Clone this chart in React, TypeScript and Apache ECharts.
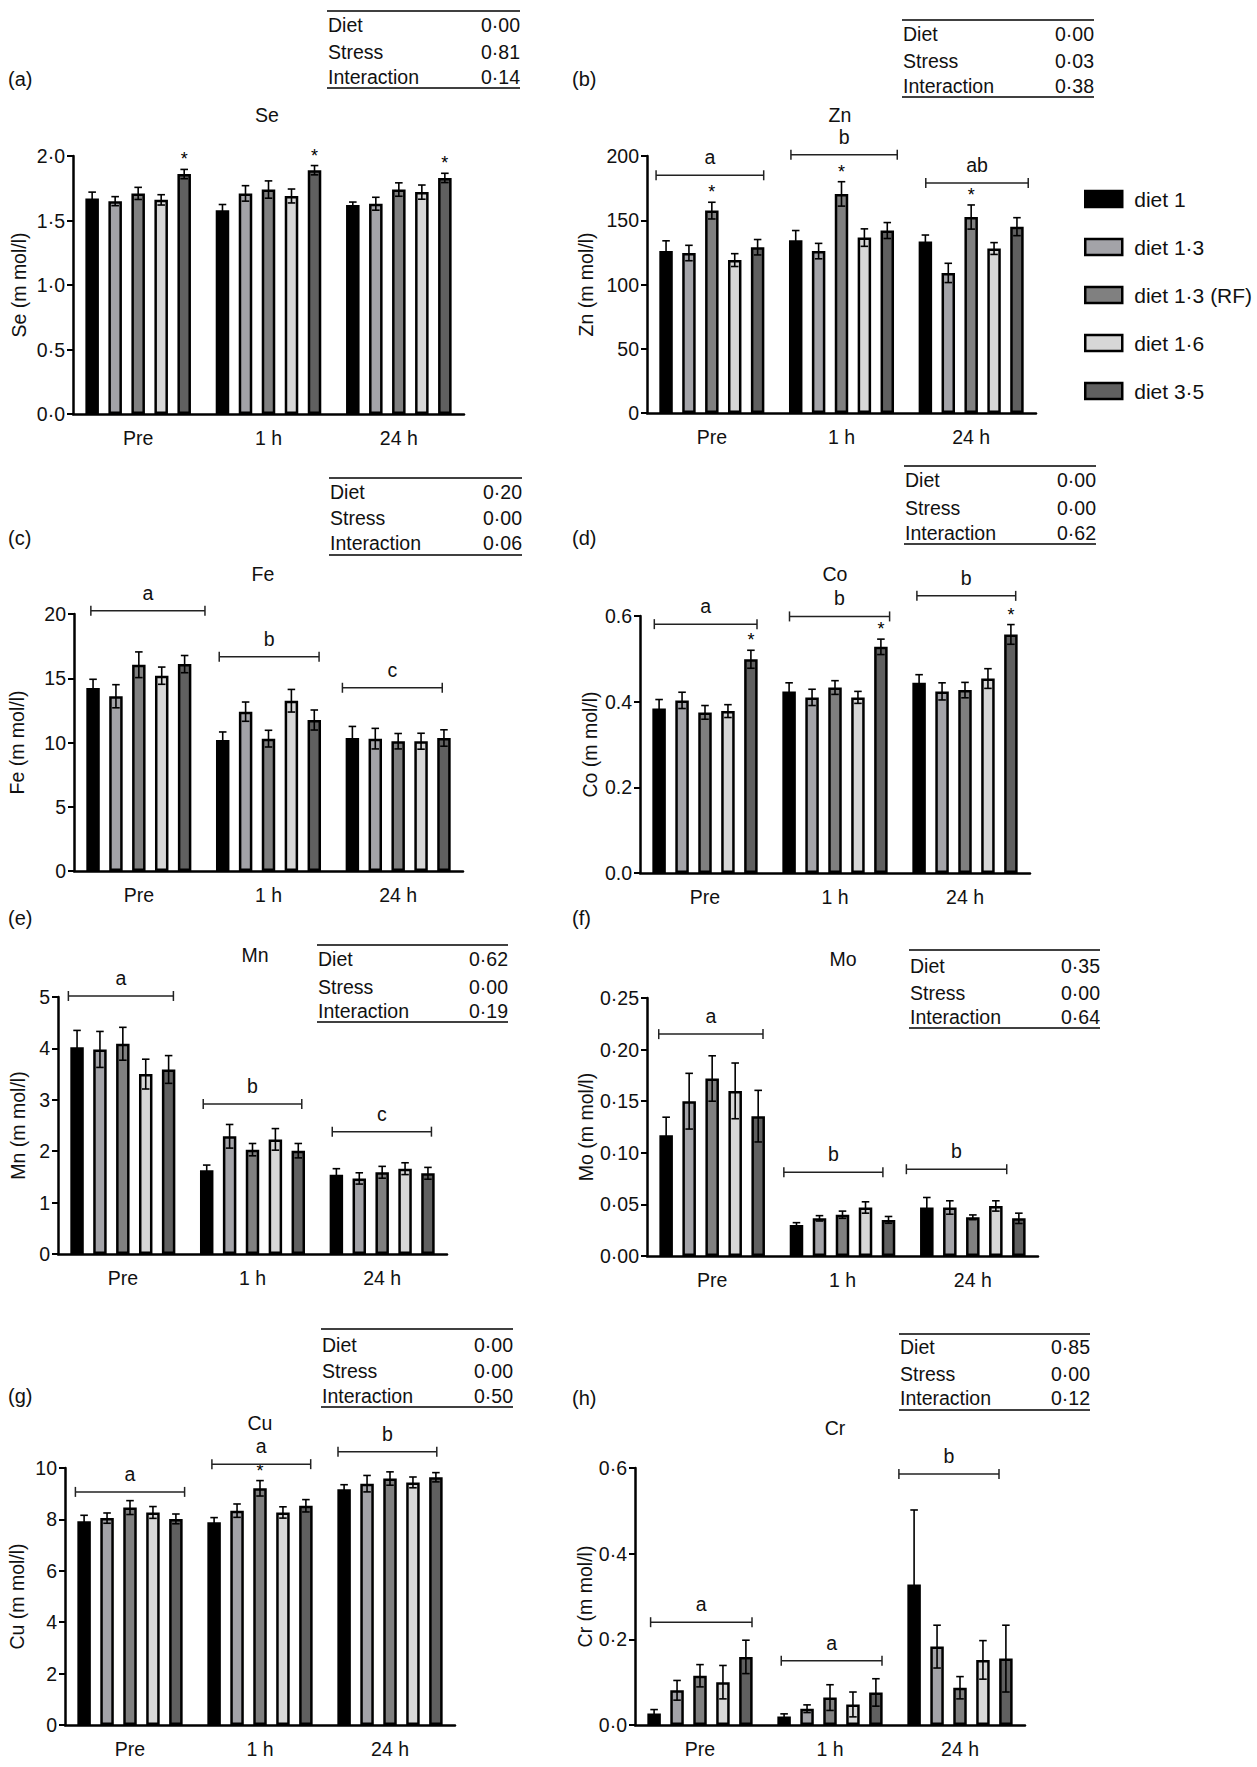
import React, { useEffect, useRef } from "react";
import * as echarts from "echarts";

// ---------- data ----------
const timePoints = ["Pre", "1 h", "24 h"];
const dietNames = ["diet 1", "diet 1·3", "diet 1·3 (RF)", "diet 1·6", "diet 3·5"];
const dietColors = ["#000000", "#a3a3a8", "#808080", "#d7d7d7", "#606060"];
const anovaTerms = ["Diet", "Stress", "Interaction"];

// means[diet][time] and SEM[diet][time]
const seMeans = [
  [1.67, 1.58, 1.62],
  [1.65, 1.71, 1.63],
  [1.71, 1.74, 1.74],
  [1.66, 1.69, 1.72],
  [1.86, 1.89, 1.83],
];
const seSem = [
  [0.05, 0.044, 0.023],
  [0.035, 0.06, 0.05],
  [0.047, 0.067, 0.052],
  [0.04, 0.054, 0.055],
  [0.036, 0.036, 0.036],
];
const seStars = [[0, 4], [1, 4], [2, 4]];
const seAnova = ["0·00", "0·81", "0·14"];

const znMeans = [
  [126, 134.5, 133.5],
  [124.5, 126, 109],
  [157.5, 170.5, 152.5],
  [119, 136.5, 128],
  [129, 142, 145],
];
const znSem = [
  [8, 7.5, 5],
  [6, 6, 7.5],
  [6.5, 9.5, 9.4],
  [5, 6.8, 4.6],
  [6, 6.2, 7],
];
const znStars = [[0, 2], [1, 2], [2, 2]];
const znGroups = ["a", "b", "ab"];
const znAnova = ["0·00", "0·03", "0·38"];

const feMeans = [
  [14.25, 10.2, 10.35],
  [13.6, 12.4, 10.3],
  [16.05, 10.3, 10.1],
  [15.2, 13.25, 10.1],
  [16.1, 11.75, 10.35],
];
const feSem = [
  [0.67, 0.62, 0.9],
  [0.9, 0.75, 0.8],
  [1.0, 0.65, 0.6],
  [0.67, 0.88, 0.62],
  [0.67, 0.78, 0.64],
];
const feGroups = ["a", "b", "c"];
const feAnova = ["0·20", "0·00", "0·06"];

const coMeans = [
  [0.384, 0.424, 0.444],
  [0.403, 0.41, 0.424],
  [0.375, 0.433, 0.427],
  [0.378, 0.41, 0.454],
  [0.499, 0.528, 0.557],
];
const coSem = [
  [0.021, 0.02, 0.019],
  [0.019, 0.019, 0.02],
  [0.016, 0.016, 0.018],
  [0.015, 0.014, 0.023],
  [0.021, 0.018, 0.023],
];
const coStars = [[0, 4], [1, 4], [2, 4]];
const coGroups = ["a", "b", "b"];
const coAnova = ["0·00", "0·00", "0·62"];

const mnMeans = [
  [4.02, 1.63, 1.54],
  [3.98, 2.29, 1.47],
  [4.09, 2.03, 1.59],
  [3.5, 2.23, 1.66],
  [3.59, 2.01, 1.57],
];
const mnSem = [
  [0.33, 0.1, 0.12],
  [0.35, 0.23, 0.11],
  [0.32, 0.12, 0.115],
  [0.29, 0.21, 0.115],
  [0.27, 0.14, 0.115],
];
const mnGroups = ["a", "b", "c"];
const mnAnova = ["0·62", "0·00", "0·19"];

const moMeans = [
  [0.117, 0.03, 0.047],
  [0.15, 0.0365, 0.047],
  [0.172, 0.04, 0.0375],
  [0.16, 0.047, 0.0485],
  [0.1355, 0.035, 0.0365],
];
const moSem = [
  [0.0175, 0.0023, 0.0097],
  [0.027, 0.0026, 0.0065],
  [0.022, 0.0035, 0.0023],
  [0.027, 0.0055, 0.005],
  [0.025, 0.0033, 0.005],
];
const moGroups = ["a", "b", "b"];
const moAnova = ["0·35", "0·00", "0·64"];

const cuMeans = [
  [7.93, 7.89, 9.17],
  [8.05, 8.34, 9.39],
  [8.46, 9.21, 9.59],
  [8.27, 8.27, 9.44],
  [8.02, 8.53, 9.64],
];
const cuSem = [
  [0.23, 0.18, 0.18],
  [0.2, 0.26, 0.32],
  [0.27, 0.3, 0.26],
  [0.23, 0.22, 0.21],
  [0.19, 0.24, 0.18],
];
const cuStars = [[1, 2]];
const cuGroups = ["a", "a", "b"];
const cuAnova = ["0·00", "0·00", "0·50"];

const crMeans = [
  [0.027, 0.02, 0.328],
  [0.081, 0.038, 0.183],
  [0.115, 0.064, 0.087],
  [0.1, 0.048, 0.152],
  [0.159, 0.076, 0.155],
];
const crSem = [
  [0.009, 0.006, 0.174],
  [0.023, 0.009, 0.05],
  [0.026, 0.03, 0.026],
  [0.039, 0.029, 0.045],
  [0.039, 0.032, 0.078],
];
const crGroups = ["a", "a", "b"];
const crAnova = ["0·85", "0·00", "0·12"];

// ---------- formatting ----------
const FONT = '"Liberation Sans", Arial, Helvetica, sans-serif';
const TEXT = "#111";
const FS = 19.5;
const CAT_GAP = 0.19;
const BAR_GAP = 0.7;
const BAR_BORDER = 2.5;

const midDot = (digits: number) => (v: number) => v.toFixed(digits).replace(".", "·");
const plainDot = (digits: number) => (v: number) => v.toFixed(digits);
const integer = (v: number) => String(Math.round(v));

// ---------- panel layout ----------
type Layout = {
  tag: [number, number];
  title: [number, number];
  grid: [number, number, number, number];
  nameGap: number;
  table: { x1: number; x2: number; top: number; rows: number[]; bottom: number };
  brackets?: [number, number, number][]; // [y value, left offset, right offset] in band units
};

type Panel = {
  tag: string;
  element: string;
  max: number;
  step: number;
  fmt: (v: number) => string;
  means: number[][];
  sems: number[][];
  stars: number[][];
  groups: string[] | null;
  anova: string[];
  layout: Layout;
};

const panels: Panel[] = [
  {
    tag: "(a)", element: "Se", max: 2, step: 0.5, fmt: midDot(1),
    means: seMeans, sems: seSem, stars: seStars, groups: null, anova: seAnova,
    layout: {
      tag: [8, 79], title: [267, 115], grid: [73, 156, 391, 258], nameGap: 44,
      table: { x1: 327, x2: 520, top: 11, rows: [25, 52, 77], bottom: 88 },
    },
  },
  {
    tag: "(b)", element: "Zn", max: 200, step: 50, fmt: integer,
    means: znMeans, sems: znSem, stars: znStars, groups: znGroups, anova: znAnova,
    layout: {
      tag: [572, 79], title: [840, 115], grid: [647, 156, 389, 257], nameGap: 51,
      table: { x1: 902, x2: 1094, top: 20, rows: [34, 61, 86], bottom: 97 },
      brackets: [[185, -0.43, 0.4], [201, -0.39, 0.43], [179, -0.35, 0.44]],
    },
  },
  {
    tag: "(c)", element: "Fe", max: 20, step: 5, fmt: integer,
    means: feMeans, sems: feSem, stars: [], groups: feGroups, anova: feAnova,
    layout: {
      tag: [8, 538], title: [263, 574], grid: [74, 614, 389, 257], nameGap: 47,
      table: { x1: 329, x2: 522, top: 478, rows: [492, 518, 543], bottom: 555 },
      brackets: [[20.26, -0.37, 0.51], [16.67, -0.38, 0.39], [14.26, -0.43, 0.34]],
    },
  },
  {
    tag: "(d)", element: "Co", max: 0.6, step: 0.2, fmt: plainDot(1),
    means: coMeans, sems: coSem, stars: coStars, groups: coGroups, anova: coAnova,
    layout: {
      tag: [572, 538], title: [835, 574], grid: [640, 616, 390, 257], nameGap: 40,
      table: { x1: 904, x2: 1096, top: 466, rows: [480, 508, 533], bottom: 544 },
      brackets: [[0.581, -0.39, 0.4], [0.599, -0.35, 0.42], [0.647, -0.37, 0.39]],
    },
  },
  {
    tag: "(e)", element: "Mn", max: 5, step: 1, fmt: integer,
    means: mnMeans, sems: mnSem, stars: [], groups: mnGroups, anova: mnAnova,
    layout: {
      tag: [8, 918], title: [255, 955], grid: [58, 997, 389, 257], nameGap: 30,
      table: { x1: 317, x2: 508, top: 945, rows: [959, 987, 1011], bottom: 1022 },
      brackets: [[5.02, -0.42, 0.39], [2.92, -0.38, 0.38], [2.38, -0.385, 0.38]],
    },
  },
  {
    tag: "(f)", element: "Mo", max: 0.25, step: 0.05, fmt: midDot(2),
    means: moMeans, sems: moSem, stars: [], groups: moGroups, anova: moAnova,
    layout: {
      tag: [572, 918], title: [843, 959], grid: [647, 998, 391, 258], nameGap: 50,
      table: { x1: 909, x2: 1100, top: 950, rows: [966, 993, 1017], bottom: 1028 },
      brackets: [[0.215, -0.41, 0.39], [0.0812, -0.45, 0.31], [0.0841, -0.51, 0.26]],
    },
  },
  {
    tag: "(g)", element: "Cu", max: 10, step: 2, fmt: integer,
    means: cuMeans, sems: cuSem, stars: cuStars, groups: cuGroups, anova: cuAnova,
    layout: {
      tag: [8, 1396], title: [260, 1423], grid: [65, 1468, 390, 257], nameGap: 38,
      table: { x1: 321, x2: 513, top: 1329, rows: [1345, 1371, 1396], bottom: 1407 },
      brackets: [[9.07, -0.42, 0.42], [10.15, -0.37, 0.39], [10.63, -0.4, 0.36]],
    },
  },
  {
    tag: "(h)", element: "Cr", max: 0.6, step: 0.2, fmt: midDot(1),
    means: crMeans, sems: crSem, stars: [], groups: crGroups, anova: crAnova,
    layout: {
      tag: [572, 1398], title: [835, 1428], grid: [635, 1468, 390, 257], nameGap: 38,
      table: { x1: 899, x2: 1090, top: 1334, rows: [1347, 1374, 1398], bottom: 1410 },
      brackets: [[0.24, -0.38, 0.4], [0.15, -0.375, 0.4], [0.586, -0.47, 0.3]],
    },
  },
];

// ---------- renderers ----------
function barWidthOf(api: any) {
  const cw = api.size([1, 0])[0];
  return { cw, bw: (cw * (1 - CAT_GAP)) / (5 + 4 * BAR_GAP) };
}

function errorBarRenderer(params: any, api: any) {
  const t = api.value(0);
  const d = api.value(1);
  const m = api.value(2);
  const s = api.value(3);
  const star = api.value(4);
  const { bw } = barWidthOf(api);
  const c = api.coord([t, m]);
  const x = c[0] + (d - 2) * bw * (1 + BAR_GAP);
  const yHi = api.coord([t, m + s])[1];
  const yLo = api.coord([t, m - s])[1];
  const h = bw * 0.28;
  const st = { stroke: "#000", lineWidth: 1.6 };
  const children: any[] = [
    { type: "line", shape: { x1: x, y1: yHi, x2: x, y2: yLo }, style: st },
    { type: "line", shape: { x1: x - h, y1: yHi, x2: x + h, y2: yHi }, style: st },
    { type: "line", shape: { x1: x - h, y1: yLo, x2: x + h, y2: yLo }, style: st },
  ];
  if (star) {
    children.push({
      type: "text",
      style: {
        text: "*", x, y: yHi - 10, align: "center", verticalAlign: "middle",
        textAlign: "center", textVerticalAlign: "middle",
        fontSize: 18, fontFamily: FONT, fill: "#000",
      },
    });
  }
  return { type: "group", children };
}

function bracketRenderer(labels: string[], spans: [number, number, number][]) {
  return (params: any, api: any) => {
    const i = params.dataIndex;
    const t = api.value(0);
    const yv = api.value(1);
    const { cw } = barWidthOf(api);
    const c = api.coord([t, yv]);
    const x1 = c[0] + spans[i][1] * cw;
    const x2 = c[0] + spans[i][2] * cw;
    const y = c[1];
    const st = { stroke: "#222", lineWidth: 1.5 };
    return {
      type: "group",
      children: [
        { type: "line", shape: { x1, y1: y, x2, y2: y }, style: st },
        { type: "line", shape: { x1, y1: y - 5, x2: x1, y2: y + 5 }, style: st },
        { type: "line", shape: { x1: x2, y1: y - 5, x2, y2: y + 5 }, style: st },
        {
          type: "text",
          style: {
            text: labels[i], x: (x1 + x2) / 2, y: y - 18,
            align: "center", verticalAlign: "middle",
            textAlign: "center", textVerticalAlign: "middle",
            fontSize: FS, fontFamily: FONT, fill: TEXT,
          },
        },
      ],
    };
  };
}

function textEl(text: string, x: number, y: number, align: string, size = FS) {
  return {
    type: "text",
    silent: true,
    style: {
      text, x, y, fill: TEXT, fontSize: size, fontFamily: FONT,
      align, verticalAlign: "middle", textAlign: align, textVerticalAlign: "middle",
    },
  };
}

function lineEl(x1: number, x2: number, y: number) {
  return {
    type: "line",
    silent: true,
    shape: { x1, y1: y, x2, y2: y },
    style: { stroke: "#000", lineWidth: 1.5 },
  };
}

function buildOption() {
  const grid: any[] = [];
  const xAxis: any[] = [];
  const yAxis: any[] = [];
  const series: any[] = [];
  const graphics: any[] = [];

  panels.forEach((p, i) => {
    const L = p.layout;
    grid.push({ left: L.grid[0], top: L.grid[1], width: L.grid[2], height: L.grid[3] });
    xAxis.push({
      type: "category",
      gridIndex: i,
      data: timePoints,
      axisLine: { lineStyle: { color: "#000", width: 2.5 } },
      axisTick: { alignWithLabel: true, length: 8, lineStyle: { color: "#000", width: 2.5 } },
      axisLabel: { interval: 0, color: TEXT, fontSize: FS, fontFamily: FONT, margin: 14 },
      splitLine: { show: false },
    });
    yAxis.push({
      type: "value",
      gridIndex: i,
      min: 0,
      max: p.max,
      interval: p.step,
      name: `${p.element} (m mol/l)`,
      nameLocation: "middle",
      nameGap: L.nameGap,
      nameTextStyle: { color: TEXT, fontSize: FS, fontFamily: FONT },
      axisLine: { show: true, lineStyle: { color: "#000", width: 2.5 } },
      axisTick: { show: true, length: 6, lineStyle: { color: "#000", width: 2 } },
      axisLabel: { formatter: p.fmt, color: TEXT, fontSize: FS, fontFamily: FONT, margin: 8 },
      splitLine: { show: false },
    });

    p.means.forEach((row, d) => {
      series.push({
        type: "bar",
        name: dietNames[d],
        xAxisIndex: i,
        yAxisIndex: i,
        data: row,
        barGap: `${BAR_GAP * 100}%`,
        barCategoryGap: `${CAT_GAP * 100}%`,
        itemStyle: { color: dietColors[d], borderColor: "#000", borderWidth: BAR_BORDER },
        emphasis: { disabled: true },
        silent: true,
      });
    });

    const errData: number[][] = [];
    p.means.forEach((row, d) =>
      row.forEach((m, t) => {
        const starred = p.stars.some((s) => s[0] === t && s[1] === d) ? 1 : 0;
        errData.push([t, d, m, p.sems[d][t], starred]);
      })
    );
    series.push({
      type: "custom",
      xAxisIndex: i,
      yAxisIndex: i,
      data: errData,
      encode: { x: 0, y: 2 },
      clip: false,
      z: 5,
      silent: true,
      renderItem: errorBarRenderer,
    });

    if (p.groups && L.brackets) {
      series.push({
        type: "custom",
        xAxisIndex: i,
        yAxisIndex: i,
        data: L.brackets.map((b, t) => [t, b[0]]),
        encode: { x: 0, y: 1 },
        clip: false,
        z: 5,
        silent: true,
        renderItem: bracketRenderer(p.groups, L.brackets),
      });
    }

    // panel tag, element title and ANOVA table
    graphics.push(textEl(p.tag, L.tag[0], L.tag[1], "left", 20));
    graphics.push(textEl(p.element, L.title[0], L.title[1], "center"));
    const T = L.table;
    graphics.push(lineEl(T.x1, T.x2, T.top));
    graphics.push(lineEl(T.x1, T.x2, T.bottom));
    anovaTerms.forEach((term, k) => {
      graphics.push(textEl(term, T.x1 + 1, T.rows[k], "left"));
      graphics.push(textEl(p.anova[k], T.x2, T.rows[k], "right"));
    });
  });

  return {
    animation: false,
    backgroundColor: "#ffffff",
    textStyle: { fontFamily: FONT },
    grid,
    xAxis,
    yAxis,
    series,
    legend: {
      data: dietNames,
      orient: "vertical",
      left: 1079,
      top: 183,
      itemWidth: 37,
      itemHeight: 16,
      itemGap: 26,
      icon: "rect",
      selectedMode: false,
      itemStyle: { borderColor: "#000", borderWidth: 2.5 },
      textStyle: { color: TEXT, fontSize: 21, fontFamily: FONT, lineHeight: 22, padding: [0, 0, 0, 7] },
    },
    graphic: { elements: graphics },
  };
}

export default function App() {
  const ref = useRef<HTMLDivElement>(null);
  useEffect(() => {
    if (!ref.current) return;
    const chart = echarts.init(ref.current, undefined, { renderer: "svg" });
    chart.setOption(buildOption() as any);
    return () => chart.dispose();
  }, []);
  return (
    <div
      ref={ref}
      style={{ position: "absolute", left: 0, top: 0, width: 1257, height: 1767, background: "#fff" }}
    />
  );
}
